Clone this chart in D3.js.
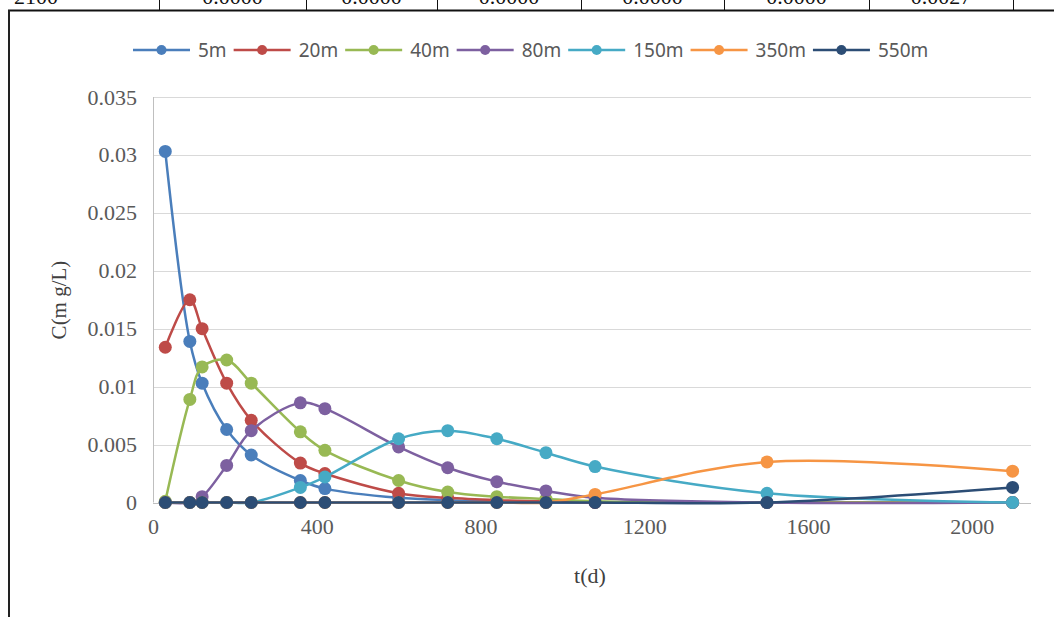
<!DOCTYPE html>
<html lang="en">
<head>
<meta charset="UTF-8">
<title>C(mg/L) vs t(d)</title>
<style>
  body { margin: 0; background: #fff; }
  svg { display: block; }
</style>
</head>
<body>
<script src="https://d3js.org/d3.v7.min.js"></script>
<script>
// times (days) shared by every series
var times = [30, 90, 120, 180, 240, 360, 420, 600, 720, 840, 960, 1080, 1500, 2100];

var names = ["5m", "20m", "40m", "80m", "150m", "350m", "550m"];

var c5   = [0.0303, 0.0139, 0.0103, 0.0063, 0.0041, 0.0019, 0.0012, 0.0004, 0.0002, 0.0001, 0.0000, 0.0000, 0.0000, 0.0000];
var c20  = [0.0134, 0.0175, 0.0150, 0.0103, 0.0071, 0.0034, 0.0025, 0.0008, 0.0004, 0.0002, 0.0001, 0.0000, 0.0000, 0.0000];
var c40  = [0.0001, 0.0089, 0.0117, 0.0123, 0.0103, 0.0061, 0.0045, 0.0019, 0.0009, 0.0005, 0.0003, 0.0001, 0.0000, 0.0000];
var c80  = [0.0000, 0.0000, 0.0005, 0.0032, 0.0062, 0.0086, 0.0081, 0.0048, 0.0030, 0.0018, 0.0010, 0.0004, 0.0000, 0.0000];
var c150 = [0.0000, 0.0000, 0.0000, 0.0000, 0.0000, 0.0013, 0.0022, 0.0055, 0.0062, 0.0055, 0.0043, 0.0031, 0.0008, 0.0000];
var c350 = [0.0000, 0.0000, 0.0000, 0.0000, 0.0000, 0.0000, 0.0000, 0.0000, 0.0000, 0.0000, 0.0000, 0.0007, 0.0035, 0.0027];
var c550 = [0.0000, 0.0000, 0.0000, 0.0000, 0.0000, 0.0000, 0.0000, 0.0000, 0.0000, 0.0000, 0.0000, 0.0000, 0.0000, 0.0013];

var colors = ["#4a7ebb", "#be4b48", "#98b954", "#7d60a0", "#46aac5", "#f69544", "#2c4d75"];

var xTicks = [0, 400, 800, 1200, 1600, 2000];
var yTicks = [0, 0.005, 0.01, 0.015, 0.02, 0.025, 0.03, 0.035];

// bottom edge of the table row above the chart
var tableRow = ["2100", "0.0000", "0.0000", "0.0000", "0.0000", "0.0000", "0.0027", "0.0013"];

var allSeries = [c5, c20, c40, c80, c150, c350, c550];
var series = names.map(function(n, i) {
  return {name: n, color: colors[i], values: times.map(function(t, j) { return {t: t, c: allSeries[i][j]}; })};
});

var W = 1054, H = 617;
var svg = d3.select("body").append("svg").attr("width", W).attr("height", H);

// ---- table fragment at the top ----
var cellEdges = [0, 159, 306, 437, 581, 724, 869, 1013, 1160];
svg.append("line").attr("x1", 8).attr("x2", W).attr("y1", 10.5).attr("y2", 10.5)
  .attr("stroke", "#111").attr("stroke-width", 2);
svg.append("line").attr("x1", 9).attr("x2", 9).attr("y1", 10).attr("y2", H)
  .attr("stroke", "#222").attr("stroke-width", 2);
svg.selectAll(".cellEdge").data(cellEdges.slice(1, 8)).enter().append("line")
  .attr("x1", function(d) { return d + 0.5; }).attr("x2", function(d) { return d + 0.5; })
  .attr("y1", 0).attr("y2", 10).attr("stroke", "#111").attr("stroke-width", 1);
svg.selectAll(".cellText").data(tableRow).enter().append("text")
  .attr("x", function(d, i) { return i === 0 ? 14 : (cellEdges[i] + cellEdges[i + 1]) / 2; })
  .attr("y", 4)
  .attr("text-anchor", function(d, i) { return i === 0 ? "start" : "middle"; })
  .attr("font-family", "Liberation Serif, serif").attr("font-size", "22px")
  .attr("fill", "#111")
  .text(function(d) { return d; });

// ---- chart ----
var x = d3.scaleLinear().domain([0, 2145]).range([153, 1031]);
var y = d3.scaleLinear().domain([0, 0.035]).range([502.5, 97]);

var chart = svg.append("g");

chart.selectAll(".grid").data(yTicks.slice(1)).enter().append("line")
  .attr("x1", x(0)).attr("x2", x.range()[1])
  .attr("y1", function(d) { return Math.round(y(d)) + 0.5; })
  .attr("y2", function(d) { return Math.round(y(d)) + 0.5; })
  .attr("stroke", "#d9d9d9").attr("stroke-width", 1);

// axis lines
chart.append("line").attr("x1", x(0) + 0.5).attr("x2", x(0) + 0.5).attr("y1", y(0.035)).attr("y2", y(0))
  .attr("stroke", "#bfbfbf");
chart.append("line").attr("x1", x(0)).attr("x2", x.range()[1]).attr("y1", Math.round(y(0)) + 0.5).attr("y2", Math.round(y(0)) + 0.5)
  .attr("stroke", "#bfbfbf");

var yAxis = d3.axisLeft(y).tickValues(yTicks).tickSize(0).tickPadding(16)
  .tickFormat(function(d) { return d === 0 ? "0" : String(+d.toFixed(3)); });
var gy = chart.append("g").attr("transform", "translate(" + x(0) + ",0)").call(yAxis);
gy.select(".domain").remove();
gy.selectAll("text").attr("font-family", "Liberation Serif, serif").attr("font-size", "22px").attr("fill", "#595959");

var xAxis = d3.axisBottom(x).tickValues(xTicks).tickSize(0).tickPadding(16).tickFormat(d3.format("d"));
var gx = chart.append("g").attr("transform", "translate(0," + y(0) + ")").call(xAxis);
gx.select(".domain").remove();
gx.selectAll("text").attr("font-family", "Liberation Serif, serif").attr("font-size", "22px").attr("fill", "#595959");

// axis titles
svg.append("text").attr("x", 590).attr("y", 583).attr("text-anchor", "middle")
  .attr("font-family", "Liberation Serif, serif").attr("font-size", "22px").attr("fill", "#404040")
  .text("t(d)");
svg.append("text").attr("transform", "translate(66,300) rotate(-90)").attr("text-anchor", "middle")
  .attr("font-family", "Liberation Serif, serif").attr("font-size", "21px").attr("fill", "#404040")
  .text("C(m g/L)");

// lines and markers
var line = d3.line()
  .x(function(d) { return x(d.t); })
  .y(function(d) { return y(d.c); })
  .curve(d3.curveCatmullRom.alpha(0.5));

var sg = chart.selectAll(".series").data(series).enter().append("g");
sg.append("path")
  .attr("d", function(d) { return line(d.values); })
  .attr("fill", "none")
  .attr("stroke", function(d) { return d.color; })
  .attr("stroke-width", 2.5);
sg.selectAll("circle").data(function(d) { return d.values.map(function(v) { return {t: v.t, c: v.c, color: d.color}; }); })
  .enter().append("circle")
  .attr("cx", function(d) { return x(d.t); })
  .attr("cy", function(d) { return y(d.c); })
  .attr("r", 6.5)
  .attr("fill", function(d) { return d.color; });

// legend
var legend = svg.append("g");
var lx = 133, ly = 50;
series.forEach(function(s) {
  var g = legend.append("g");
  g.append("line").attr("x1", lx).attr("x2", lx + 57).attr("y1", ly).attr("y2", ly)
    .attr("stroke", s.color).attr("stroke-width", 2.5);
  g.append("circle").attr("cx", lx + 28.5).attr("cy", ly).attr("r", 5).attr("fill", s.color);
  var t = g.append("text").attr("x", lx + 65).attr("y", ly + 7)
    .attr("font-family", "Noto Sans, sans-serif").attr("font-size", "19px").attr("fill", "#595959")
    .text(s.name);
  lx = lx + 65 + t.node().getComputedTextLength() + 7;
});
</script>
</body>
</html>
